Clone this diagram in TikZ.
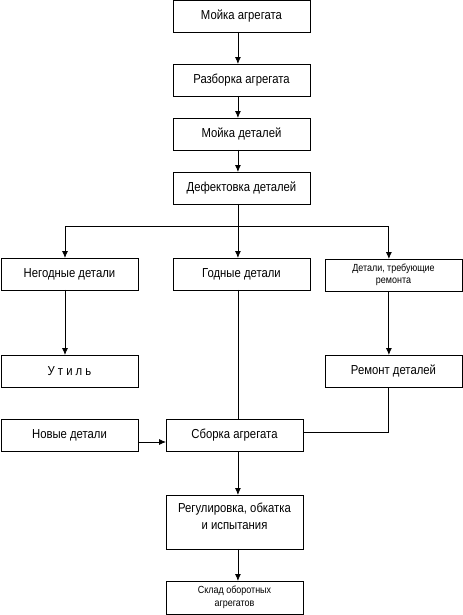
\documentclass[tikz,border=0pt]{standalone}
\usepackage{fontspec}
\setmainfont{Liberation Sans}[FakeStretch=0.87]
\usetikzlibrary{arrows.meta}
\def\s{0.03515}
\def\punkt#1#2{({(#1)*\s},{-(#2)*\s})}
\tikzset{
	blok/.style={draw,minimum width=137pt,minimum height=32pt,inner sep=1pt,outer sep=0pt,
		align=center,font=\fontsize{13}{17}\selectfont},
	melko/.style={font=\fontsize{10.3}{12.5}\selectfont},
	strelka/.style={-{Latex[length=7pt,width=6pt]}}
}

\begin{document}
\begin{tikzpicture}[line width=0.8pt]
\useasboundingbox \punkt{0}{0} rectangle \punkt{463}{615};
% osi strelok
\coordinate (axm) at (238pt,0pt);
\coordinate (axl) at (65pt,0pt);
\coordinate (axr) at (389pt,0pt);
\coordinate (vilka) at (238pt,-226pt);
% bloki
\node[blok] (moyka) at \punkt{241.5}{16} {Мойка агрегата};
\node[blok] (razb) at \punkt{241.5}{80} {Разборка агрегата};
\node[blok] (moykad) at \punkt{241.5}{134} {Мойка деталей};
\node[blok] (defekt) at \punkt{241.5}{188} {Дефектовка деталей};
\node[blok] (negod) at \punkt{69.5}{274} {Негодные детали};
\node[blok] (godn) at \punkt{241.5}{274} {Годные детали};
\node[blok,melko] (treb) at \punkt{393.5}{275} {Детали, требующие\\ремонта};
\node[blok] (util) at \punkt{69.5}{371} {У т и л ь};
\node[blok] (remont) at \punkt{393.5}{371} {Ремонт деталей};
\node[blok] (novye) at \punkt{69.5}{435} {Новые детали};
\node[blok] (sborka) at \punkt{234.5}{435} {Сборка агрегата};
\node[blok,minimum height=54pt] (regul) at \punkt{234.5}{522} {Регулировка, обкатка\\и испытания\\[-6pt]};
\node[blok,melko,minimum height=33pt] (sklad) at \punkt{234.5}{597.5} {Склад оборотных\\агрегатов};
% strelki
\draw[strelka] (moyka.south -| axm) -- (razb.north -| axm);
\draw[strelka] (razb.south -| axm) -- (moykad.north -| axm);
\draw[strelka] (moykad.south -| axm) -- (defekt.north -| axm);
\draw (defekt.south -| axm) -- (vilka);
\draw[strelka] (vilka) -| (negod.north -| axl);
\draw[strelka] (vilka) -- (godn.north -| axm);
\draw[strelka] (vilka) -| (treb.north -| axr);
\draw[strelka] (negod.south -| axl) -- (util.north -| axl);
\draw[strelka] (treb.south -| axr) -- (remont.north -| axr);
\draw (godn.south -| axm) -- (sborka.north -| axm);
\draw (remont.south -| axr) |- ([yshift=3pt]sborka.east);
\draw[strelka] ([yshift=-7pt]novye.east) -- ([yshift=-7pt]sborka.west);
\draw[strelka] (sborka.south -| axm) -- (regul.north -| axm);
\draw[strelka] (regul.south -| axm) -- (sklad.north -| axm);
\end{tikzpicture}
\end{document}
